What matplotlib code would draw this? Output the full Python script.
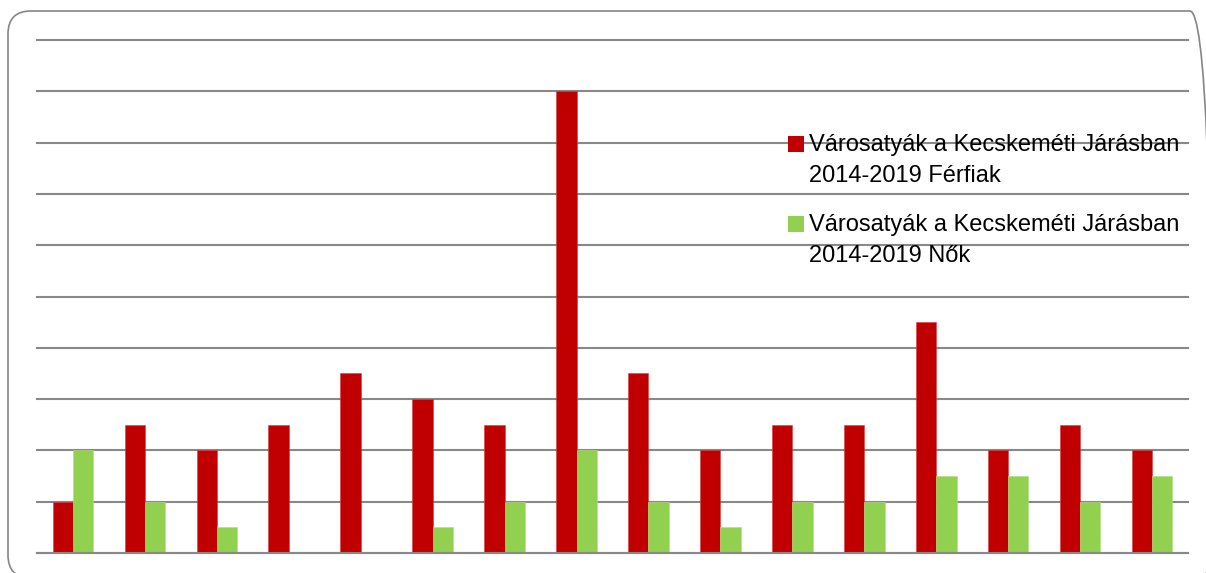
import matplotlib
matplotlib.use("Agg")
import matplotlib.pyplot as plt
from matplotlib.patches import FancyBboxPatch, Rectangle
from matplotlib.transforms import IdentityTransform
import numpy as np

categories = [str(i) for i in range(1, 17)]
ferfiak = [1, 2.5, 2, 2.5, 3.5, 3, 2.5, 9, 3.5, 2, 2.5, 2.5, 4.5, 2, 2.5, 2]
nok = [2, 1, 0.5, 0, 0, 0.5, 1, 2, 1, 0.5, 1, 1, 1.5, 1.5, 1, 1.5]
labels = ["Városatyák a Kecskeméti Járásban\n2014-2019 Férfiak",
          "Városatyák a Kecskeméti Járásban\n2014-2019 Nők"]
colors = ["#C00000", "#92D050"]

W, H = 1206, 573
fig = plt.figure(figsize=(W / 100, H / 100), dpi=100)
plt.rcParams['font.family'] = ['Liberation Sans', 'DejaVu Sans']

def px(x0, y0, x1, y1):
    return [x0 / W, 1 - y1 / H, (x1 - x0) / W, (y1 - y0) / H]

ax = fig.add_axes(px(37, 40, 1188, 553))
x = np.arange(len(categories))
bw = 0.282
ax.bar(x - bw / 2, ferfiak, bw, color=colors[0], edgecolor='#D84040', linewidth=0.4, zorder=3)
ax.bar(x + bw / 2, nok, bw, color=colors[1], edgecolor='#B0E080', linewidth=0.4, zorder=3)
ax.set_xlim(-0.5, len(categories) - 0.5)
ax.set_ylim(0, 10)
ax.set_yticks(np.arange(0, 11, 1))
ax.yaxis.grid(True, color='#888888', linewidth=1.5, zorder=0)
for gl in ax.get_ygridlines():
    gl.set_clip_on(False)
ax.set_xticks([])
ax.tick_params(left=False, labelleft=False)
for s in ['top', 'right', 'left', 'bottom']:
    ax.spines[s].set_visible(False)
ax.axhline(0, color='#888888', linewidth=1.5, zorder=4, clip_on=False)

# Legend (manual, handle aligned with first line)
legend_top = [136, 216]  # top of marker in pixels
for lab, col, yt in zip(labels, colors, legend_top):
    fig.patches.append(Rectangle((788, H - yt - 16), 16, 16,
                                 transform=IdentityTransform(), facecolor=col,
                                 edgecolor='none', zorder=5))
    fig.text(809 / W, 1 - (yt - 2) / H, lab, fontsize=17, va='top', ha='left',
             linespacing=1.55, color='black', zorder=6)

# Rounded border (pixel coords)
border = FancyBboxPatch((8, H - 578), 1213 - 8, 578 - 11,
                        boxstyle="round,pad=0,rounding_size=23",
                        transform=IdentityTransform(), facecolor='none',
                        edgecolor='#868686', linewidth=1.2, zorder=1)
fig.patches.append(border)

fig.savefig("out.png", dpi=100)
